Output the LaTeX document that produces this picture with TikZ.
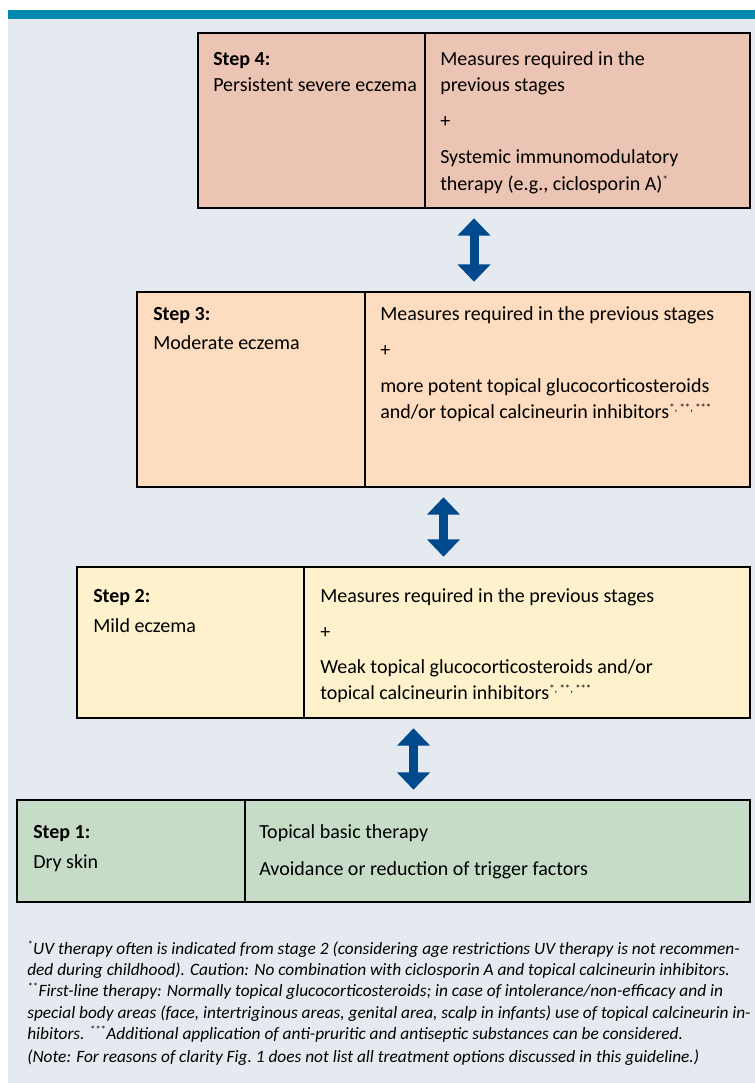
\documentclass[tikz,border=0pt]{standalone}
\usepackage{fontspec}
\setmainfont{Carlito}
\newfontfamily\notefont{Carlito}
\usetikzlibrary{arrows.meta,fit}
\definecolor{tealbar}{HTML}{0089AD}
\definecolor{bgcol}{HTML}{E5EAF0}
\definecolor{sfour}{HTML}{ECC4B3}
\definecolor{sthree}{HTML}{FDDCC0}
\definecolor{stwo}{HTML}{FEF2CD}
\definecolor{sone}{HTML}{C6DCC6}
\definecolor{arrowblue}{HTML}{00498C}
\newcommand{\sups}[1]{\textsuperscript{\fontsize{8}{8}\selectfont #1}}
\begin{document}
\begin{tikzpicture}[x=0.75pt,y=-0.75pt,
  cell/.style={draw=black, line width=1.3pt, inner sep=0pt},
  whole/.style={inner sep=0pt},
  txt/.style={anchor=base west, inner sep=0pt, font=\fontsize{15}{18}\selectfont},
  hd/.style={txt, font=\fontsize{15}{18}\selectfont\bfseries},
  note/.style={anchor=base west, inner sep=0pt, font=\notefont\itshape\fontsize{13}{15}\selectfont},
  dblarrow/.style={draw=arrowblue, line width=6.75pt,
    {Triangle[width=24pt,length=13pt]}-{Triangle[width=24pt,length=13pt]},
    shorten <=7.5pt, shorten >=7.5pt}
]
\useasboundingbox (0,0) rectangle (755,1083);
\fill[white] (0,0) rectangle (755,1083);
\fill[bgcol] (8,19) rectangle (755,1083);
\fill[tealbar] (8,10) rectangle (755,19);

% Step 4
\node[cell, fill=sfour, fit={(198,33) (425,208)}] (s4l) {};
\node[cell, fill=sfour, fit={(425,33) (750,208)}] (s4r) {};
\node[whole, fit={(198,33) (750,208)}] (s4) {};
% Step 3
\node[cell, fill=sthree, fit={(137,292) (365,487)}] (s3l) {};
\node[cell, fill=sthree, fit={(365,292) (750,487)}] (s3r) {};
\node[whole, fit={(137,292) (750,487)}] (s3) {};
% Step 2
\node[cell, fill=stwo, fit={(77,567) (304,718)}] (s2l) {};
\node[cell, fill=stwo, fit={(304,567) (750,718)}] (s2r) {};
\node[whole, fit={(77,567) (750,718)}] (s2) {};
% Step 1
\node[cell, fill=sone, fit={(17,800) (245,902)}] (s1l) {};
\node[cell, fill=sone, fit={(245,800) (750,902)}] (s1r) {};
\node[whole, fit={(17,800) (750,902)}] (s1) {};

% arrows
\draw[dblarrow] (s4.south) -- (s4.south |- s3.north);
\draw[dblarrow] (s3.south) -- (s3.south |- s2.north);
\draw[dblarrow] (s2.south) -- (s2.south |- s1.north);

% Step 4 texts
\node[hd] (t4a) at (213,65) {Step 4:};
\node[txt] (t4b) at (213,91) {Persistent severe eczema};
\node[txt] (t4c) at (440,65) {Measures required in the};
\node[txt] (t4d) at (440,91) {previous stages};
\node[txt] (t4e) at (440,127) {+};
\node[txt] (t4f) at (440,163) {Systemic immunomodulatory};
\node[txt] (t4g) at (440,190) {therapy (e.g., ciclosporin A)\sups{*}};

% Step 3 texts
\node[hd] (t3a) at (153,320) {Step 3:};
\node[txt] (t3b) at (153,349) {Moderate eczema};
\node[txt] (t3c) at (380,320) {Measures required in the previous stages};
\node[txt] (t3d) at (380,356) {+};
\node[txt] (t3e) at (380,392) {more potent topical glucocorticosteroids};
\node[txt] (t3f) at (380,418) {and/or topical calcineurin inhibitors\sups{*, **, ***}};

% Step 2 texts
\node[hd] (t2a) at (93,602) {Step 2:};
\node[txt] (t2b) at (93,632) {Mild eczema};
\node[txt] (t2c) at (320,602) {Measures required in the previous stages};
\node[txt] (t2d) at (320,638) {+};
\node[txt] (t2e) at (320,673) {Weak topical glucocorticosteroids and/or};
\node[txt] (t2f) at (320,699) {topical calcineurin inhibitors\sups{*, **, ***}};

% Step 1 texts
\node[hd] (t1a) at (33,838) {Step 1:};
\node[txt] (t1b) at (33,868) {Dry skin};
\node[txt] (t1c) at (259,838) {Topical basic therapy};
\node[txt] (t1d) at (259,875) {Avoidance or reduction of trigger factors};

% footnotes
\node[note] (n1) at (27,954) {\sups{*}UV therapy often is indicated from stage 2 (considering age restrictions UV therapy is not recommen-};
\node[note] (n2) at (27,975) {ded during childhood). Caution: No combination with ciclosporin A and topical calcineurin inhibitors.};
\node[note] (n3) at (27,996) {\sups{**}First-line therapy: Normally topical glucocorticosteroids; in case of intolerance/non-efficacy and in};
\node[note] (n4) at (27,1018) {special body areas (face, intertriginous areas, genital area, scalp in infants) use of topical calcineurin in-};
\node[note] (n5) at (27,1039) {hibitors. \sups{***}Additional application of anti-pruritic and antiseptic substances can be considered.};
\node[note] (n6) at (27,1062) {(Note: For reasons of clarity Fig.~1 does not list all treatment options discussed in this guideline.)};
\end{tikzpicture}
\end{document}
